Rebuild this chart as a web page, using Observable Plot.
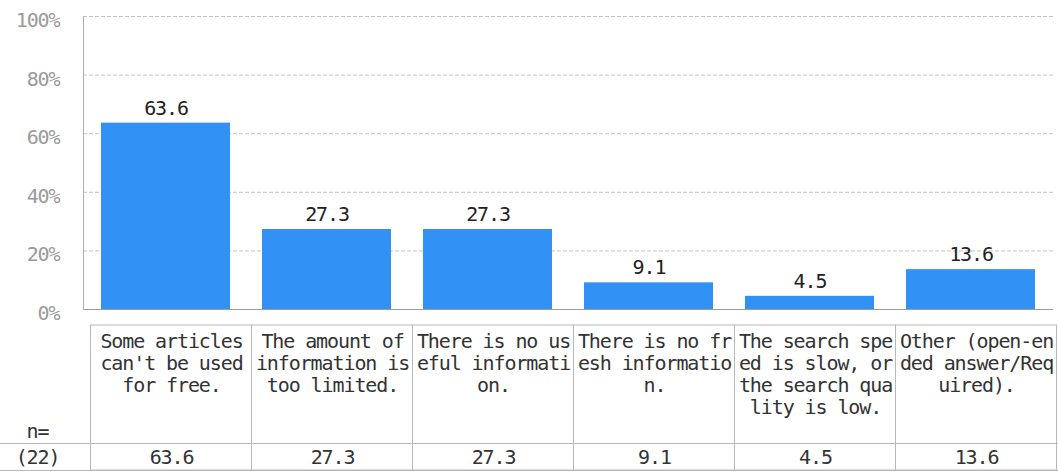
<!DOCTYPE html>
<html>
<head>
<meta charset="utf-8">
<script src="https://cdn.jsdelivr.net/npm/d3@7"></script>
<script src="https://cdn.jsdelivr.net/npm/@observablehq/plot@0.6"></script>
<style>
  html, body { margin: 0; padding: 0; background: #fff; }
  #chart { width: 1058px; height: 472px; overflow: hidden; }
</style>
</head>
<body>
<div id="chart"></div>
<script>
// ---- data ----
const categories = [
  "Some articles\ncan't be used\nfor free.",
  "The amount of\ninformation is\ntoo limited.",
  "There is no us\neful informati\non.",
  "There is no fr\nesh informatio\nn.",
  "The search spe\ned is slow, or\nthe search qua\nlity is low.",
  "Other (open-en\nded answer/Req\nuired)."
];
const values = [63.6, 27.3, 27.3, 9.1, 4.5, 13.6];
const yTicks = [0, 20, 40, 60, 80, 100];
const gridTicks = [20, 40, 60, 80, 100];
const nHeader = "n=";
const nLabel = "(22)";

// ---- layout ----
const W = 1058, H = 472, ML = 83, MR = 5, MT = 16, MB = 163;
const plotH = H - MT - MB;
const yPx = px => (H - MB - px) * 100 / plotH; // pixel row -> y value (below 0 = table area)

const rows = categories.map((c, i) => ({c, v: values[i]}));
const fmt = d3.format(".1f");
const tableDx = 5.5;

const chart = Plot.plot({
  width: W,
  height: H,
  marginLeft: ML,
  marginRight: MR,
  marginTop: MT,
  marginBottom: MB,
  style: {
    fontFamily: "'DejaVu Sans Mono', monospace",
    fontSize: "20px",
    letterSpacing: "-1.1px",
    background: "#fff",
    overflow: "visible"
  },
  x: {domain: categories, padding: 0, axis: null},
  y: {domain: [0, 100], axis: null},
  marks: [
    Plot.gridY(gridTicks, {stroke: "#c4c4c4", strokeOpacity: 1, strokeDasharray: "4,2"}),
    Plot.axisY(yTicks, {
      tickSize: 0, tickPadding: 24, tickFormat: d => d + "%",
      color: "#9a9a9a", dy: 4, label: null
    }),
    Plot.barY(rows, {x: "c", y: "v", fill: "#3291f5", insetLeft: 16, insetRight: 16}),
    Plot.ruleY([0], {stroke: "#9c9c9c", strokeWidth: 1.2}),
    Plot.frame({anchor: "left", stroke: "#b0b0b0"}),
    Plot.text(rows, {x: "c", y: "v", text: d => fmt(d.v), dy: -15, fill: "#222"}),
    // table below
    Plot.rect(rows, {x: "c", y1: yPx(325), y2: yPx(470), fill: "none", stroke: "#b8b8b8", dx: tableDx}),
    Plot.ruleY([yPx(443), yPx(470)], {stroke: "#b8b8b8", insetLeft: -ML, insetRight: -MR}),
    Plot.text(rows, {x: "c", y: yPx(331.8), text: "c", lineAnchor: "top", lineHeight: 1.1, fill: "#333", dx: tableDx}),
    Plot.text(rows, {x: "c", y: yPx(457), text: d => fmt(d.v), fill: "#333", dx: tableDx}),
    Plot.text([nHeader], {frameAnchor: "left", y: yPx(431), text: d => d, dx: -46, textAnchor: "middle", fill: "#333"}),
    Plot.text([nLabel], {frameAnchor: "left", y: yPx(457), text: d => d, dx: -46, textAnchor: "middle", fill: "#333"})
  ]
});
document.getElementById("chart").appendChild(chart);
</script>
</body>
</html>
